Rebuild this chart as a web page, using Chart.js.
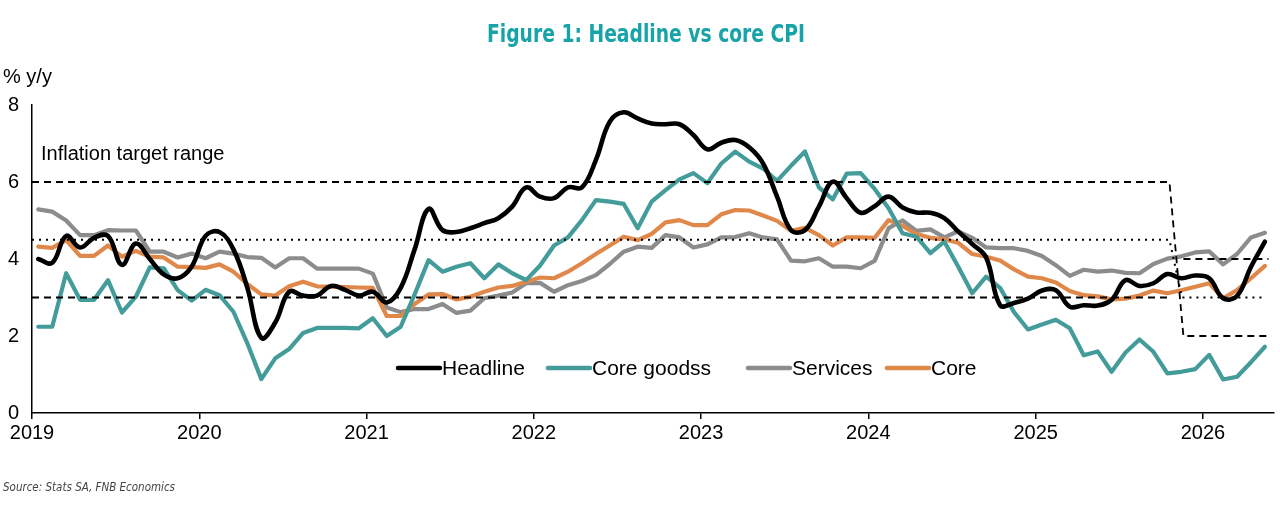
<!DOCTYPE html>
<html>
<head>
<meta charset="utf-8">
<title>Figure 1: Headline vs core CPI</title>
<script src="https://cdn.jsdelivr.net/npm/chart.js@4.4.1/dist/chart.umd.min.js"></script>
<style>
    html, body { margin: 0; padding: 0; background: #fff; }
    #wrap { width: 1280px; height: 520px; position: relative; }
</style>
</head>
<body>
<div id="wrap"><canvas id="cpiChart" width="1280" height="520"></canvas></div>
<script>
// Monthly data, Jan 2019 .. May 2026, % y/y
const yearLabels = [2019, 2020, 2021, 2022, 2023, 2024, 2025, 2026];

const headline = [
    4.0, 3.9, 4.6, 4.3, 4.55, 4.6, 3.85, 4.4, 4.0, 3.6, 3.5, 3.8,
    4.6, 4.7, 4.25, 3.25, 1.95, 2.35, 3.15, 3.05, 3.05, 3.3, 3.2, 3.05,
    3.15, 2.87, 3.25, 4.25, 5.3, 4.75, 4.7, 4.8, 4.93, 5.06, 5.36, 5.86,
    5.62, 5.58, 5.86, 5.86, 6.57, 7.57, 7.81, 7.65, 7.52, 7.5, 7.5, 7.22,
    6.85, 7.02, 7.09, 6.9, 6.48, 5.62, 4.75, 4.75, 5.36, 6.01, 5.58, 5.2,
    5.37, 5.62, 5.34, 5.21, 5.2, 5.06, 4.71, 4.39, 4.04, 2.8, 2.86, 2.97,
    3.18, 3.19, 2.76, 2.8, 2.79, 2.94, 3.45, 3.3, 3.37, 3.61, 3.5, 3.57,
    3.5, 2.98, 3.04, 3.8, 4.45
];

const coreGoods = [
    2.24, 2.24, 3.63, 2.94, 2.94, 3.45, 2.61, 3.02, 3.78, 3.76, 3.19, 2.92,
    3.2, 3.06, 2.63, 1.81, 0.88, 1.42, 1.66, 2.08, 2.21, 2.21, 2.21, 2.2,
    2.46, 2.0, 2.24, 3.08, 3.97, 3.67, 3.8, 3.89, 3.5, 3.86, 3.63, 3.45,
    3.83, 4.35, 4.56, 5.01, 5.53, 5.49, 5.43, 4.8, 5.49, 5.79, 6.07, 6.23,
    5.97, 6.48, 6.79, 6.53, 6.35, 6.03, 6.42, 6.79, 5.86, 5.55, 6.22, 6.23,
    5.82, 5.32, 4.67, 4.58, 4.15, 4.45, 3.8, 3.11, 3.54, 3.25, 2.62, 2.17,
    2.3, 2.42, 2.2, 1.5, 1.6, 1.07, 1.57, 1.91, 1.59, 1.03, 1.07, 1.14,
    1.51, 0.87, 0.94, 1.32, 1.72
];

const services = [
    5.29, 5.23, 5.0, 4.62, 4.62, 4.75, 4.74, 4.74, 4.19, 4.19, 4.04, 4.14,
    4.02, 4.19, 4.14, 4.05, 4.03, 3.78, 4.02, 4.02, 3.75, 3.75, 3.75, 3.75,
    3.62, 2.74, 2.62, 2.7, 2.7, 2.83, 2.6, 2.66, 2.98, 3.05, 3.13, 3.37,
    3.38, 3.15, 3.32, 3.43, 3.58, 3.87, 4.19, 4.32, 4.29, 4.62, 4.56, 4.3,
    4.38, 4.56, 4.57, 4.67, 4.56, 4.51, 3.96, 3.94, 4.02, 3.8, 3.8, 3.76,
    3.95, 4.8, 5.0, 4.73, 4.77, 4.56, 4.72, 4.55, 4.3, 4.28, 4.28, 4.21,
    4.08, 3.84, 3.56, 3.72, 3.67, 3.7, 3.64, 3.63, 3.87, 4.01, 4.07, 4.17,
    4.2, 3.86, 4.13, 4.56, 4.68
];

const core = [
    4.32, 4.29, 4.49, 4.08, 4.08, 4.35, 4.06, 4.21, 4.06, 4.04, 3.8, 3.79,
    3.77, 3.86, 3.67, 3.35, 3.08, 3.05, 3.29, 3.41, 3.29, 3.28, 3.27, 3.26,
    3.25, 2.52, 2.52, 2.83, 3.08, 3.09, 2.95, 3.02, 3.15, 3.26, 3.3, 3.41,
    3.52, 3.5, 3.67, 3.89, 4.13, 4.35, 4.58, 4.49, 4.65, 4.95, 5.01, 4.88,
    4.88, 5.16, 5.27, 5.26, 5.13, 4.99, 4.73, 4.81, 4.62, 4.35, 4.56, 4.56,
    4.55, 5.01, 4.86, 4.65, 4.55, 4.51, 4.42, 4.13, 4.06, 3.96, 3.73, 3.54,
    3.5, 3.39, 3.17, 3.06, 3.03, 2.95, 2.97, 3.05, 3.18, 3.11, 3.19, 3.28,
    3.37, 2.98, 3.19, 3.5, 3.82
];

// Inflation target range (months since Jan 2019): 3-6% band, then 3% +/- 1
const upperMonths = [0, 81.6, 82.6, 88.7];
const upperValues = [6, 6, 2, 2];
const lowerMonths = [0, 81.7, 82.1, 82.6, 88.7];
const lowerValues = [3, 3, null, 4, 4];
const midMonths = [0, 81.6, 82.5, 88.3];
const midValues = [4.5, 4.5, 3, 3];

const yTicks = [0, 2, 4, 6, 8];

// Build {x, y} points; monthly obs plotted mid-month
function toPoints(values) {
    return values.map((v, i) => ({ x: i + 0.45, y: v }));
}

function zipPoints(xs, ys) {
    return xs.map((x, i) => ({ x: x, y: ys[i] }));
}

const FONT = '"Liberation Sans", Arial, sans-serif';
const NARROW = '"Liberation Sans Narrow", "DejaVu Sans Condensed", sans-serif';

// Draws title, unit label, note, source and the in-plot legend
const annotations = {
    id: 'annotations',
    afterDraw(chart, args, opts) {
        const ctx = chart.ctx;
        ctx.save();

        // title, squeezed to the width of the original
        ctx.font = 'bold 24px ' + NARROW;
        ctx.fillStyle = '#17a3a7';
        ctx.textBaseline = 'alphabetic';
        ctx.textAlign = 'left';
        const title = 'Figure 1: Headline vs core CPI';
        const tw = ctx.measureText(title).width;
        const sx = Math.min(1, 318 / tw);
        ctx.save();
        ctx.translate(646 - tw * sx / 2, 42);
        ctx.scale(sx, 1);
        ctx.fillText(title, 0, 0);
        ctx.restore();

        ctx.fillStyle = '#000';
        ctx.font = '20px ' + FONT;
        ctx.fillText('% y/y', 3, 83);
        ctx.fillText('Inflation target range', 41, 160);

        // source line
        ctx.font = 'italic 13px ' + NARROW;
        ctx.fillStyle = '#444';
        const src = 'Source: Stats SA, FNB Economics';
        const swid = ctx.measureText(src).width;
        const ss = Math.min(1, 172 / swid);
        ctx.save();
        ctx.translate(3, 491);
        ctx.scale(ss, 1);
        ctx.fillText(src, 0, 0);
        ctx.restore();

        // legend
        const ly = opts.legendY;
        ctx.font = '21px ' + FONT;
        ctx.textBaseline = 'middle';
        opts.legendX.forEach((lx, k) => {
            const ds = chart.data.datasets[k];
            ctx.strokeStyle = ds.borderColor;
            ctx.lineWidth = 4.5;
            ctx.lineCap = 'round';
            ctx.beginPath();
            ctx.moveTo(lx, ly);
            ctx.lineTo(lx + 42, ly);
            ctx.stroke();
            ctx.fillStyle = '#000';
            ctx.fillText(ds.label, lx + 44, ly + 1);
        });

        ctx.restore();
    }
};

document.addEventListener('DOMContentLoaded', function() {
    const ctx = document.getElementById('cpiChart').getContext('2d');

    const seriesStyle = {
        borderWidth: 4.2,
        pointRadius: 0,
        fill: false,
        borderJoinStyle: 'round',
        borderCapStyle: 'round',
        tension: 0
    };
    const bandStyle = {
        borderColor: '#000',
        borderWidth: 1.8,
        pointRadius: 0,
        fill: false,
        tension: 0,
        spanGaps: false,
        order: 0
    };

    const cpiChart = new Chart(ctx, {
        type: 'line',
        data: {
            datasets: [
                Object.assign({}, seriesStyle, {
                    label: 'Headline',
                    data: toPoints(headline),
                    borderColor: '#000000',
                    borderWidth: 4.6,
                    tension: 0.4,
                    order: 1
                }),
                Object.assign({}, seriesStyle, {
                    label: 'Core goodss',
                    data: toPoints(coreGoods),
                    borderColor: '#439b9a',
                    order: 2
                }),
                Object.assign({}, seriesStyle, {
                    label: 'Services',
                    data: toPoints(services),
                    borderColor: '#8c8c8c',
                    order: 4
                }),
                Object.assign({}, seriesStyle, {
                    label: 'Core',
                    data: toPoints(core),
                    borderColor: '#e0884a',
                    order: 3
                }),
                Object.assign({}, bandStyle, {
                    label: 'Upper',
                    data: zipPoints(upperMonths, upperValues),
                    borderDash: [7, 5]
                }),
                Object.assign({}, bandStyle, {
                    label: 'Lower',
                    data: zipPoints(lowerMonths, lowerValues),
                    borderDash: [7, 5]
                }),
                Object.assign({}, bandStyle, {
                    label: 'Midpoint',
                    data: zipPoints(midMonths, midValues),
                    borderWidth: 2,
                    borderDash: [2, 5]
                })
            ]
        },
        options: {
            responsive: false,
            animation: false,
            devicePixelRatio: 1,
            layout: {
                padding: { top: 105, right: 6, bottom: 67, left: 0 }
            },
            plugins: {
                legend: { display: false },
                title: { display: false },
                tooltip: { enabled: false },
                annotations: {
                    legendY: 368,
                    legendX: [398, 548, 748, 887]
                }
            },
            scales: {
                x: {
                    type: 'linear',
                    min: 0,
                    max: 89.1,
                    afterBuildTicks: function(scale) {
                        scale.ticks = yearLabels.map((y, i) => ({ value: i * 12 }));
                    },
                    afterFit: function(scale) {
                        scale.height = 40;
                    },
                    ticks: {
                        color: '#000',
                        font: { family: FONT, size: 20 },
                        padding: 2,
                        maxRotation: 0,
                        autoSkip: false,
                        callback: function(value) {
                            return String(yearLabels[0] + Math.round(value / 12));
                        }
                    },
                    grid: {
                        display: true,
                        drawOnChartArea: false,
                        drawTicks: true,
                        tickLength: 6,
                        color: '#000',
                        lineWidth: 1.5
                    },
                    border: { display: true, color: '#000', width: 1.5 }
                },
                y: {
                    min: 0,
                    max: 8,
                    afterBuildTicks: function(scale) {
                        scale.ticks = yTicks.map(v => ({ value: v }));
                    },
                    afterFit: function(scale) {
                        scale.width = 32;
                    },
                    ticks: {
                        color: '#000',
                        font: { family: FONT, size: 20 },
                        padding: 13
                    },
                    grid: { display: false, drawTicks: false },
                    border: { display: true, color: '#000', width: 1.5 }
                }
            }
        },
        plugins: [annotations]
    });
});
</script>
</body>
</html>
